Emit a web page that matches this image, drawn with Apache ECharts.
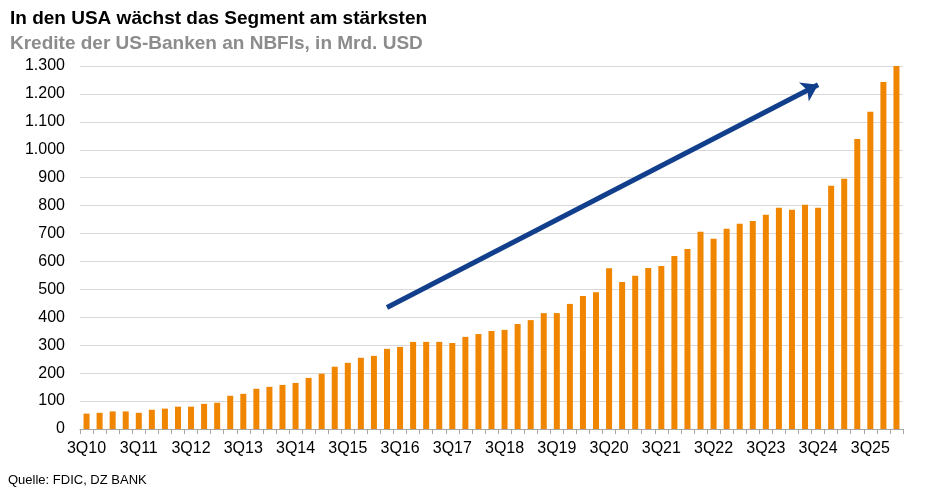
<!DOCTYPE html>
<html>
<head>
<meta charset="utf-8">
<script src="https://cdn.jsdelivr.net/npm/echarts@6/dist/echarts.min.js"></script>
<style>
  html, body { margin: 0; padding: 0; background: #fff; }
  #chart { width: 941px; height: 493px; }
</style>
</head>
<body>
<div id="chart"></div>
<script>
var quarters = [
  "3Q10","4Q10","1Q11","2Q11","3Q11","4Q11","1Q12","2Q12","3Q12","4Q12",
  "1Q13","2Q13","3Q13","4Q13","1Q14","2Q14","3Q14","4Q14","1Q15","2Q15",
  "3Q15","4Q15","1Q16","2Q16","3Q16","4Q16","1Q17","2Q17","3Q17","4Q17",
  "1Q18","2Q18","3Q18","4Q18","1Q19","2Q19","3Q19","4Q19","1Q20","2Q20",
  "3Q20","4Q20","1Q21","2Q21","3Q21","4Q21","1Q22","2Q22","3Q22","4Q22",
  "1Q23","2Q23","3Q23","4Q23","1Q24","2Q24","3Q24","4Q24","1Q25","2Q25",
  "3Q25","4Q25","1Q26"
];

// Kredite der US-Banken an NBFIs, Mrd. USD
var loans = [
  55, 58, 63, 63, 58, 69, 73, 80, 80, 90,
  94, 119, 126, 144, 151, 158, 165, 183, 198, 223,
  237, 255, 262, 287, 294, 312, 312, 312, 308, 330,
  340, 351, 355, 376, 390, 415, 415, 448, 476, 490,
  576, 526, 549, 577, 584, 620, 645, 706, 681, 717,
  735, 745, 767, 792, 785, 803, 792, 871, 896, 1039,
  1136, 1243, 1300
];

// Trendpfeil (Kategorie-Index, Wert)
var arrowStart = [23, 435];
var arrowEnd = [56, 1233];

var yTicks = { min: 0, max: 1300, step: 100 };

function fmtDE(v) {
  return String(v).replace(/\B(?=(\d{3})+(?!\d))/g, ".");
}

var chart = echarts.init(document.getElementById("chart"));

var option = {
  animation: false,
  backgroundColor: "#fff",
  textStyle: { fontFamily: "Liberation Sans, Arial, sans-serif" },
  title: [
    {
      text: "In den USA wächst das Segment am stärksten",
      left: 5, top: 4,
      textStyle: { fontSize: 19, fontWeight: "bold", color: "#000" }
    },
    {
      text: "Kredite der US-Banken an NBFIs, in Mrd. USD",
      left: 5, top: 29,
      textStyle: { fontSize: 19, fontWeight: "bold", color: "#8c8c8c" }
    },
    {
      text: "Quelle: FDIC, DZ BANK",
      left: 3, top: 469,
      textStyle: { fontSize: 13, fontWeight: "normal", color: "#000" }
    }
  ],
  grid: { left: 80, right: 38, top: 66, bottom: 64 },
  xAxis: {
    type: "category",
    data: quarters,
    boundaryGap: true,
    axisLine: { lineStyle: { color: "#a6a6a6", width: 1 } },
    axisTick: { show: true, interval: 0, length: 5, lineStyle: { color: "#a6a6a6" } },
    axisLabel: { interval: 3, color: "#000", fontSize: 16, margin: 12 }
  },
  yAxis: {
    type: "value",
    min: yTicks.min,
    max: yTicks.max,
    interval: yTicks.step,
    axisLine: { show: false },
    axisTick: { show: false },
    axisLabel: { color: "#000", fontSize: 16, margin: 15, formatter: fmtDE },
    splitLine: { lineStyle: { color: "#d9d9d9", width: 1 } }
  },
  series: [
    {
      type: "bar",
      data: loans,
      barWidth: 6,
      itemStyle: { color: "#f08500" },
      markLine: {
        silent: true,
        symbol: ["none", "arrow"],
        symbolSize: [16, 16],
        label: { show: false },
        lineStyle: { color: "#123f8c", width: 5, type: "solid" },
        data: [[
          { coord: arrowStart },
          { coord: arrowEnd }
        ]]
      }
    }
  ]
};

chart.setOption(option);
</script>
</body>
</html>
